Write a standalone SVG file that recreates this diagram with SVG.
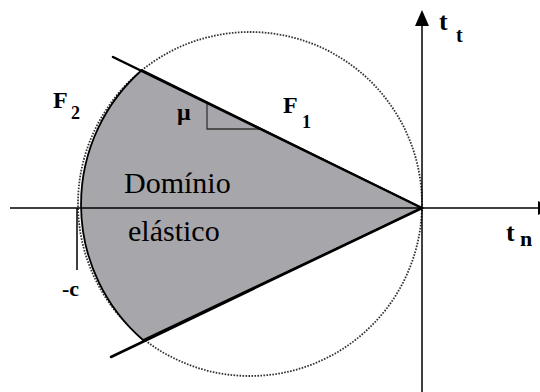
<svg xmlns="http://www.w3.org/2000/svg" width="540" height="392" viewBox="0 0 540 392">
<rect width="540" height="392" fill="#fff"/>
<g id="circle">
<circle cx="250" cy="204" r="172" fill="none" stroke="#333" stroke-width="1.8" stroke-dasharray="1.6 1.4"/>
</g>
<g id="domain">
<path d="M422,208 L142,70 A179,179 0 0 0 143,340 Z" fill="#a7a6aa" stroke="#000" stroke-width="1.8"/>
<polyline points="207,104 207,129 261,129" fill="none" stroke="#333" stroke-width="1.3"/>
</g>
<g id="connectors" stroke="#000" fill="none">
<line stroke-width="1.5" x1="10" y1="208" x2="540" y2="208"/>
<polygon points="538,201 553,208 538,215" fill="#000" stroke="none"/>
<line stroke-width="1.5" x1="422" y1="24" x2="422" y2="392"/>
<polygon points="422,10 415,26 429,26" fill="#000" stroke="none"/>
<line stroke-width="2.5" stroke-linecap="round" x1="113" y1="57" x2="422" y2="208"/>
<line stroke-width="2.5" stroke-linecap="round" x1="111" y1="357" x2="422" y2="208"/>
<line stroke-width="1.5" x1="77" y1="208" x2="77" y2="270"/>
</g>
<g id="labels">
<text x="439" y="30" font-size="26" font-family="Times New Roman, Liberation Serif, serif" font-weight="bold">t</text>
<text x="456" y="42" font-size="20" font-family="Times New Roman, Liberation Serif, serif" font-weight="bold">t</text>
<text x="506" y="241" font-size="26" font-family="Times New Roman, Liberation Serif, serif" font-weight="bold">t</text>
<text x="520" y="246" font-size="22" font-family="Times New Roman, Liberation Serif, serif" font-weight="bold">n</text>
<text x="53" y="108" font-size="24" font-family="Times New Roman, Liberation Serif, serif" font-weight="bold">F</text>
<text x="71" y="119" font-size="18" font-family="Times New Roman, Liberation Serif, serif" font-weight="bold">2</text>
<text x="283" y="113" font-size="24" font-family="Times New Roman, Liberation Serif, serif" font-weight="bold">F</text>
<text x="302" y="128" font-size="18" font-family="Times New Roman, Liberation Serif, serif" font-weight="bold">1</text>
<text x="177" y="120" font-size="24" font-family="Times New Roman, Liberation Serif, serif" font-weight="bold">μ</text>
<text x="62" y="296" font-size="22" font-family="Times New Roman, Liberation Serif, serif" font-weight="bold">-c</text>
<text x="124" y="193" font-size="30" font-family="Times New Roman, Liberation Serif, serif">Domínio</text>
<text x="128" y="241" font-size="30" font-family="Times New Roman, Liberation Serif, serif">elástico</text>
</g>
</svg>
